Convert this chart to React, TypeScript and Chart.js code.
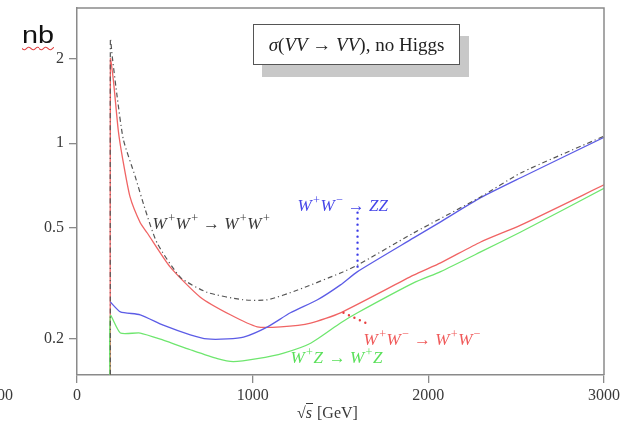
import React, { useEffect, useRef } from "react";
import { Chart, registerables } from "chart.js";

Chart.register(...registerables);

// ---- data (sqrt(s) in GeV, sigma in nb) ----
const wpwpX = [190, 190, 201, 229, 264, 332, 389, 456, 589, 743, 948, 1085, 1256, 1500, 1597, 1916, 2298, 2526, 3000];
const wpwpY = [0.1, 2.36, 2.03, 1.46, 1.03, 0.758, 0.578, 0.44, 0.332, 0.293, 0.276, 0.276, 0.299, 0.344, 0.367, 0.478, 0.643, 0.783, 1.06];

const wwzzX = [190, 247, 360, 491, 645, 742, 856, 948, 1085, 1215, 1369, 1500, 1597, 1916, 2070, 2298, 2526, 3000];
const wwzzY = [0.271, 0.25, 0.244, 0.224, 0.207, 0.2, 0.2, 0.203, 0.221, 0.248, 0.276, 0.312, 0.348, 0.459, 0.524, 0.639, 0.753, 1.05];

const wwwwX = [190, 190, 207, 235, 258, 302, 360, 400, 531, 702, 873, 1026, 1159, 1330, 1500, 1916, 2070, 2298, 2526, 3000];
const wwwwY = [0.1, 2.0, 1.68, 1.11, 0.894, 0.643, 0.52, 0.478, 0.361, 0.282, 0.244, 0.221, 0.221, 0.228, 0.248, 0.338, 0.374, 0.444, 0.51, 0.71];

const wzX = [190, 190, 247, 360, 491, 645, 799, 890, 1026, 1176, 1330, 1500, 1597, 1916, 2070, 2298, 2526, 3000];
const wzY = [0.1, 0.242, 0.21, 0.21, 0.198, 0.183, 0.17, 0.166, 0.17, 0.178, 0.193, 0.228, 0.248, 0.317, 0.348, 0.409, 0.482, 0.69];

const xTicks = [0, 1000, 2000, 3000];
const yTicks = [0.2, 0.5, 1, 2];

type Seg = { t: string; sup?: boolean; it?: boolean };
const labelWpWp: Seg[] = [{ t: "W", it: true }, { t: "+", sup: true }, { t: "W", it: true }, { t: "+", sup: true }, { t: " → " }, { t: "W", it: true }, { t: "+", sup: true }, { t: "W", it: true }, { t: "+", sup: true }];
const labelWWZZ: Seg[] = [{ t: "W", it: true }, { t: "+", sup: true }, { t: "W", it: true }, { t: "−", sup: true }, { t: " → " }, { t: "ZZ", it: true }];
const labelWWWW: Seg[] = [{ t: "W", it: true }, { t: "+", sup: true }, { t: "W", it: true }, { t: "−", sup: true }, { t: " → " }, { t: "W", it: true }, { t: "+", sup: true }, { t: "W", it: true }, { t: "−", sup: true }];
const labelWZ: Seg[] = [{ t: "W", it: true }, { t: "+", sup: true }, { t: "Z", it: true }, { t: " → " }, { t: "W", it: true }, { t: "+", sup: true }, { t: "Z", it: true }];

// label anchors (data coords: left x, baseline y)
const labelAnchors = [
  { segs: labelWpWp, x: 430, y: 0.494, color: "#3a3a3a" },
  { segs: labelWWZZ, x: 1255, y: 0.573, color: "#4646e8" },
  { segs: labelWWWW, x: 1631, y: 0.19, color: "#f05a5a" },
  { segs: labelWZ, x: 1215, y: 0.164, color: "#5ae05a" },
];
// dotted pointers (data coords)
const pointers = [
  { x1: 1597, y1: 0.565, x2: 1597, y2: 0.35, color: "#3a3ae8" },
  { x1: 1517, y1: 0.248, x2: 1671, y2: 0.224, color: "#e84040" },
];

const SERIF = '"Liberation Serif", "DejaVu Serif", serif';
const AXIS = "#8a8a8a";

function drawRich(ctx: CanvasRenderingContext2D, segs: Seg[], x: number, y: number, size: number, color: string) {
  let cx = x;
  ctx.fillStyle = color;
  ctx.textBaseline = "alphabetic";
  ctx.textAlign = "left";
  for (const s of segs) {
    const fs = s.sup ? size * 0.72 : size;
    ctx.font = `${s.it ? "italic " : ""}${fs}px ${SERIF}`;
    ctx.fillText(s.t, cx, s.sup ? y - size * 0.4 : y);
    cx += ctx.measureText(s.t).width + (s.it && !s.sup ? 1.5 : s.sup ? 0.5 : 0);
  }
}

const decorPlugin = {
  id: "decor",
  afterDatasetsDraw(chart: any) {
    const { ctx, chartArea, scales } = chart;
    const xs = scales.x;
    const ys = scales.y;
    ctx.save();
    // frame (top & right)
    ctx.strokeStyle = AXIS;
    ctx.lineWidth = 1.5;
    ctx.beginPath();
    ctx.moveTo(chartArea.left, chartArea.top);
    ctx.lineTo(chartArea.right, chartArea.top);
    ctx.lineTo(chartArea.right, chartArea.bottom);
    ctx.stroke();
    // pointers
    for (const p of pointers) {
      ctx.strokeStyle = p.color;
      ctx.lineWidth = 2.4;
      ctx.lineCap = "round";
      ctx.setLineDash([0, 6]);
      ctx.beginPath();
      ctx.moveTo(xs.getPixelForValue(p.x1), ys.getPixelForValue(p.y1));
      ctx.lineTo(xs.getPixelForValue(p.x2), ys.getPixelForValue(p.y2));
      ctx.stroke();
    }
    ctx.setLineDash([]);
    for (const l of labelAnchors) {
      drawRich(ctx, l.segs, xs.getPixelForValue(l.x), ys.getPixelForValue(l.y), 17, l.color);
    }
    ctx.restore();
  },
};

function toPts(xa: number[], ya: number[]) {
  return xa.map((x, i) => ({ x, y: ya[i] }));
}

export default function App() {
  const ref = useRef<HTMLCanvasElement | null>(null);
  useEffect(() => {
    if (!ref.current) return;
    const chart = new Chart(ref.current, {
      type: "line",
      data: {
        // Chart.js paints the first dataset on top
        datasets: [
          { data: toPts(wpwpX, wpwpY), borderColor: "#555555", borderWidth: 1.2, borderDash: [5, 3, 1.2, 3] },
          { data: toPts(wzX, wzY), borderColor: "#6ee66e", borderWidth: 1.3 },
          { data: toPts(wwzzX, wwzzY), borderColor: "#5c5ce6", borderWidth: 1.3 },
          { data: toPts(wwwwX, wwwwY), borderColor: "#f06464", borderWidth: 1.3 },
        ],
      },
      options: {
        animation: false,
        responsive: false,
        maintainAspectRatio: false,
        layout: { padding: { top: 8, right: 29, left: 0, bottom: 0 } },
        plugins: { legend: { display: false }, tooltip: { enabled: false } },
        elements: { point: { radius: 0 }, line: { tension: 0.2, fill: false } },
        scales: {
          x: {
            type: "linear",
            min: 0,
            max: 3000,
            afterBuildTicks: (s: any) => { s.ticks = xTicks.map((v) => ({ value: v })); },
            ticks: { font: { family: SERIF, size: 16 }, color: "#3a3a3a", padding: 3, maxRotation: 0, callback: (v: any) => String(v) },
            grid: { drawOnChartArea: false, drawTicks: true, tickLength: 8, color: AXIS, lineWidth: 1.3 },
            border: { color: AXIS, width: 1.5 },
            afterFit: (s: any) => { s.height = 50; s.paddingLeft = 0; s.paddingRight = 0; },
          },
          y: {
            type: "logarithmic",
            min: 0.1487,
            max: 3.04,
            afterBuildTicks: (s: any) => { s.ticks = yTicks.map((v) => ({ value: v })); },
            ticks: { font: { family: SERIF, size: 16 }, color: "#3a3a3a", padding: 5, callback: (v: any) => String(v) },
            grid: { drawOnChartArea: false, drawTicks: true, tickLength: 8, color: AXIS, lineWidth: 1.3 },
            border: { color: AXIS, width: 1.5 },
            afterFit: (s: any) => { s.width = 77; s.paddingTop = 0; s.paddingBottom = 0; },
          },
        },
      },
      plugins: [decorPlugin],
    } as any);
    return () => chart.destroy();
  }, []);

  return (
    <div style={{ position: "fixed", left: 0, top: 0, width: 633, height: 425, background: "#fff", overflow: "hidden" }}>
      <canvas ref={ref} width={633} height={425} style={{ position: "absolute", left: 0, top: 0 }} />
      <div
        style={{
          position: "absolute", left: 22, top: 22, fontFamily: '"Liberation Sans", Arial, sans-serif', fontSize: 23,
          color: "#111", lineHeight: "26px", textDecoration: "underline wavy #e04040", textDecorationThickness: "1px",
          textUnderlineOffset: "3px", transform: "scaleX(1.25)", transformOrigin: "left top",
        }}
      >
        nb
      </div>
      <div style={{ position: "absolute", left: -3, top: 386, fontFamily: SERIF, fontSize: 16, color: "#3a3a3a", lineHeight: "18px" }}>00</div>
      <div
        style={{
          position: "absolute", left: 253, top: 24, width: 205, height: 39, border: "1px solid #555", background: "#fff",
          boxShadow: "9px 12px 0 #c8c8c8", display: "flex", alignItems: "center", justifyContent: "center",
          fontFamily: SERIF, fontSize: 19, color: "#222", whiteSpace: "nowrap",
        }}
      >
        <span><i>σ</i>(<i>VV</i> → <i>VV</i>), no Higgs</span>
      </div>
      <div style={{ position: "absolute", left: 297, top: 403, fontFamily: SERIF, fontSize: 16, color: "#3a3a3a", whiteSpace: "nowrap", lineHeight: "20px" }}>
        √<span style={{ borderTop: "1px solid #3a3a3a", fontStyle: "italic", paddingRight: 1 }}>s</span> [GeV]
      </div>
    </div>
  );
}
